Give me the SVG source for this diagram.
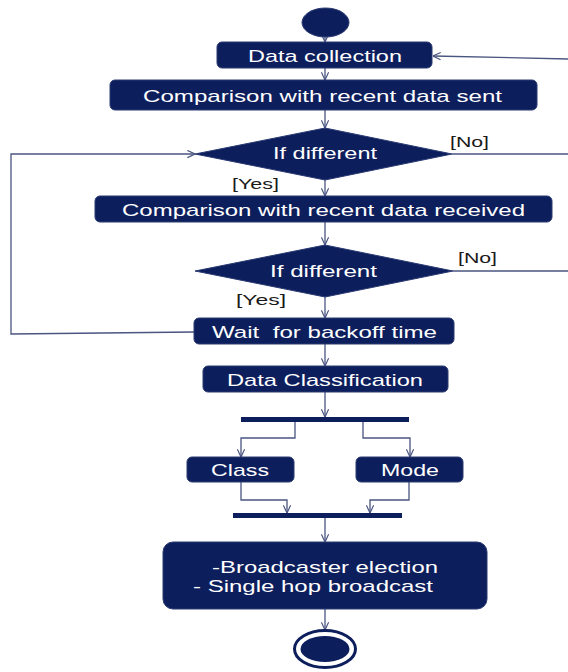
<svg xmlns="http://www.w3.org/2000/svg" width="568" height="672" viewBox="0 0 568 672">
<defs>
<style>
.n{fill:#0d1e5c;stroke:#2a3a72;stroke-width:1}
.t{fill:#ffffff;font-family:"Liberation Sans",Arial,sans-serif;font-size:17px;text-anchor:start}
.g{fill:#1a1a1a;font-family:"Liberation Sans",Arial,sans-serif;font-size:14px}
.c{fill:none;stroke:#4a5580;stroke-width:1.3}
</style>
<marker id="a" viewBox="0 0 10 10" refX="9.5" refY="5" markerWidth="9" markerHeight="9" markerUnits="userSpaceOnUse" orient="auto">
<path d="M1,1 L9.5,5 L1,9" fill="none" stroke="#4a5580" stroke-width="1.3"/>
</marker>
</defs>
<rect width="568" height="672" fill="#ffffff"/>
<g id="connectors">
<path class="c" d="M325,37 V42" marker-end="url(#a)"/>
<path class="c" d="M325,68 V80" marker-end="url(#a)"/>
<path class="c" d="M325,110 V128" marker-end="url(#a)"/>
<path class="c" d="M325,180 V196" marker-end="url(#a)"/>
<path class="c" d="M325,222 V245" marker-end="url(#a)"/>
<path class="c" d="M325,297 V318" marker-end="url(#a)"/>
<path class="c" d="M325,344 V366" marker-end="url(#a)"/>
<path class="c" d="M325,392 V417" marker-end="url(#a)"/>
<path class="c" d="M295,422 V438 H241 V457" marker-end="url(#a)"/>
<path class="c" d="M363,422 V438 H410 V457" marker-end="url(#a)"/>
<path class="c" d="M241,482 V500 H287 V513" marker-end="url(#a)"/>
<path class="c" d="M409,482 V500 H370 V513" marker-end="url(#a)"/>
<path class="c" d="M325,518 V542" marker-end="url(#a)"/>
<path class="c" d="M325,609 V630" marker-end="url(#a)"/>
<path class="c" d="M194,332 L11,334 V154 H195" marker-end="url(#a)"/>
<path class="c" d="M452,154 H568"/>
<path class="c" d="M453,271 H568"/>
<path class="c" d="M568,59 L433,56" marker-end="url(#a)"/>
</g>
<g id="start"><ellipse class="n" cx="325.5" cy="22.5" rx="23.5" ry="14.5"/></g>
<g id="data-collection">
<rect class="n" x="217" y="42" width="215" height="26" rx="5"/>
<text class="t" x="248" y="62" textLength="154" lengthAdjust="spacingAndGlyphs">Data collection</text>
</g>
<g id="compare-sent">
<rect class="n" x="110" y="80" width="427" height="30" rx="5"/>
<text class="t" x="143" y="102" font-size="18" textLength="359" lengthAdjust="spacingAndGlyphs">Comparison with recent data sent</text>
</g>
<g id="decision1">
<polygon class="n" points="195,154 325,128 452,154 325,180"/>
<text class="t" x="273" y="159" font-size="15" textLength="104" lengthAdjust="spacingAndGlyphs">If different</text>
<text class="g" x="450" y="147" textLength="39" lengthAdjust="spacingAndGlyphs">[No]</text>
<text class="g" x="232" y="189" textLength="47" lengthAdjust="spacingAndGlyphs">[Yes]</text>
</g>
<g id="compare-received">
<rect class="n" x="95" y="196" width="457" height="26" rx="5"/>
<text class="t" x="122" y="216" textLength="403" lengthAdjust="spacingAndGlyphs">Comparison with recent data received</text>
</g>
<g id="decision2">
<polygon class="n" points="195,271 325,245 453,271 325,297"/>
<text class="t" x="270" y="277" font-size="15" textLength="107" lengthAdjust="spacingAndGlyphs">If different</text>
<text class="g" x="458" y="263" textLength="39" lengthAdjust="spacingAndGlyphs">[No]</text>
<text class="g" x="236" y="305" textLength="50" lengthAdjust="spacingAndGlyphs">[Yes]</text>
</g>
<g id="wait">
<rect class="n" x="194" y="318" width="260" height="26" rx="5"/>
<text class="t" x="212" y="338" textLength="225" lengthAdjust="spacingAndGlyphs" xml:space="preserve">Wait  for backoff time</text>
</g>
<g id="data-classification">
<rect class="n" x="203" y="366" width="245" height="26" rx="5"/>
<text class="t" x="227" y="386" textLength="196" lengthAdjust="spacingAndGlyphs">Data Classification</text>
</g>
<g id="fork"><rect x="241" y="417" width="168" height="5" fill="#0d1e5c"/></g>
<g id="class">
<rect class="n" x="187" y="457" width="107" height="25" rx="5"/>
<text class="t" x="211" y="476" textLength="58" lengthAdjust="spacingAndGlyphs">Class</text>
</g>
<g id="mode">
<rect class="n" x="356" y="457" width="107" height="25" rx="5"/>
<text class="t" x="381" y="476" textLength="58" lengthAdjust="spacingAndGlyphs">Mode</text>
</g>
<g id="join"><rect x="233" y="513" width="169" height="5" fill="#0d1e5c"/></g>
<g id="broadcast">
<rect class="n" x="163" y="542" width="324" height="67" rx="10"/>
<text class="t" x="212" y="573" textLength="226" lengthAdjust="spacingAndGlyphs">-Broadcaster election</text>
<text class="t" x="193" y="592" textLength="240" lengthAdjust="spacingAndGlyphs">- Single hop broadcast</text>
</g>
<g id="end">
<ellipse cx="325" cy="649" rx="30.5" ry="18.5" fill="none" stroke="#0d1e5c" stroke-width="3"/>
<ellipse cx="325" cy="649" rx="24.5" ry="13" fill="#0d1e5c"/>
</g>
</svg>
